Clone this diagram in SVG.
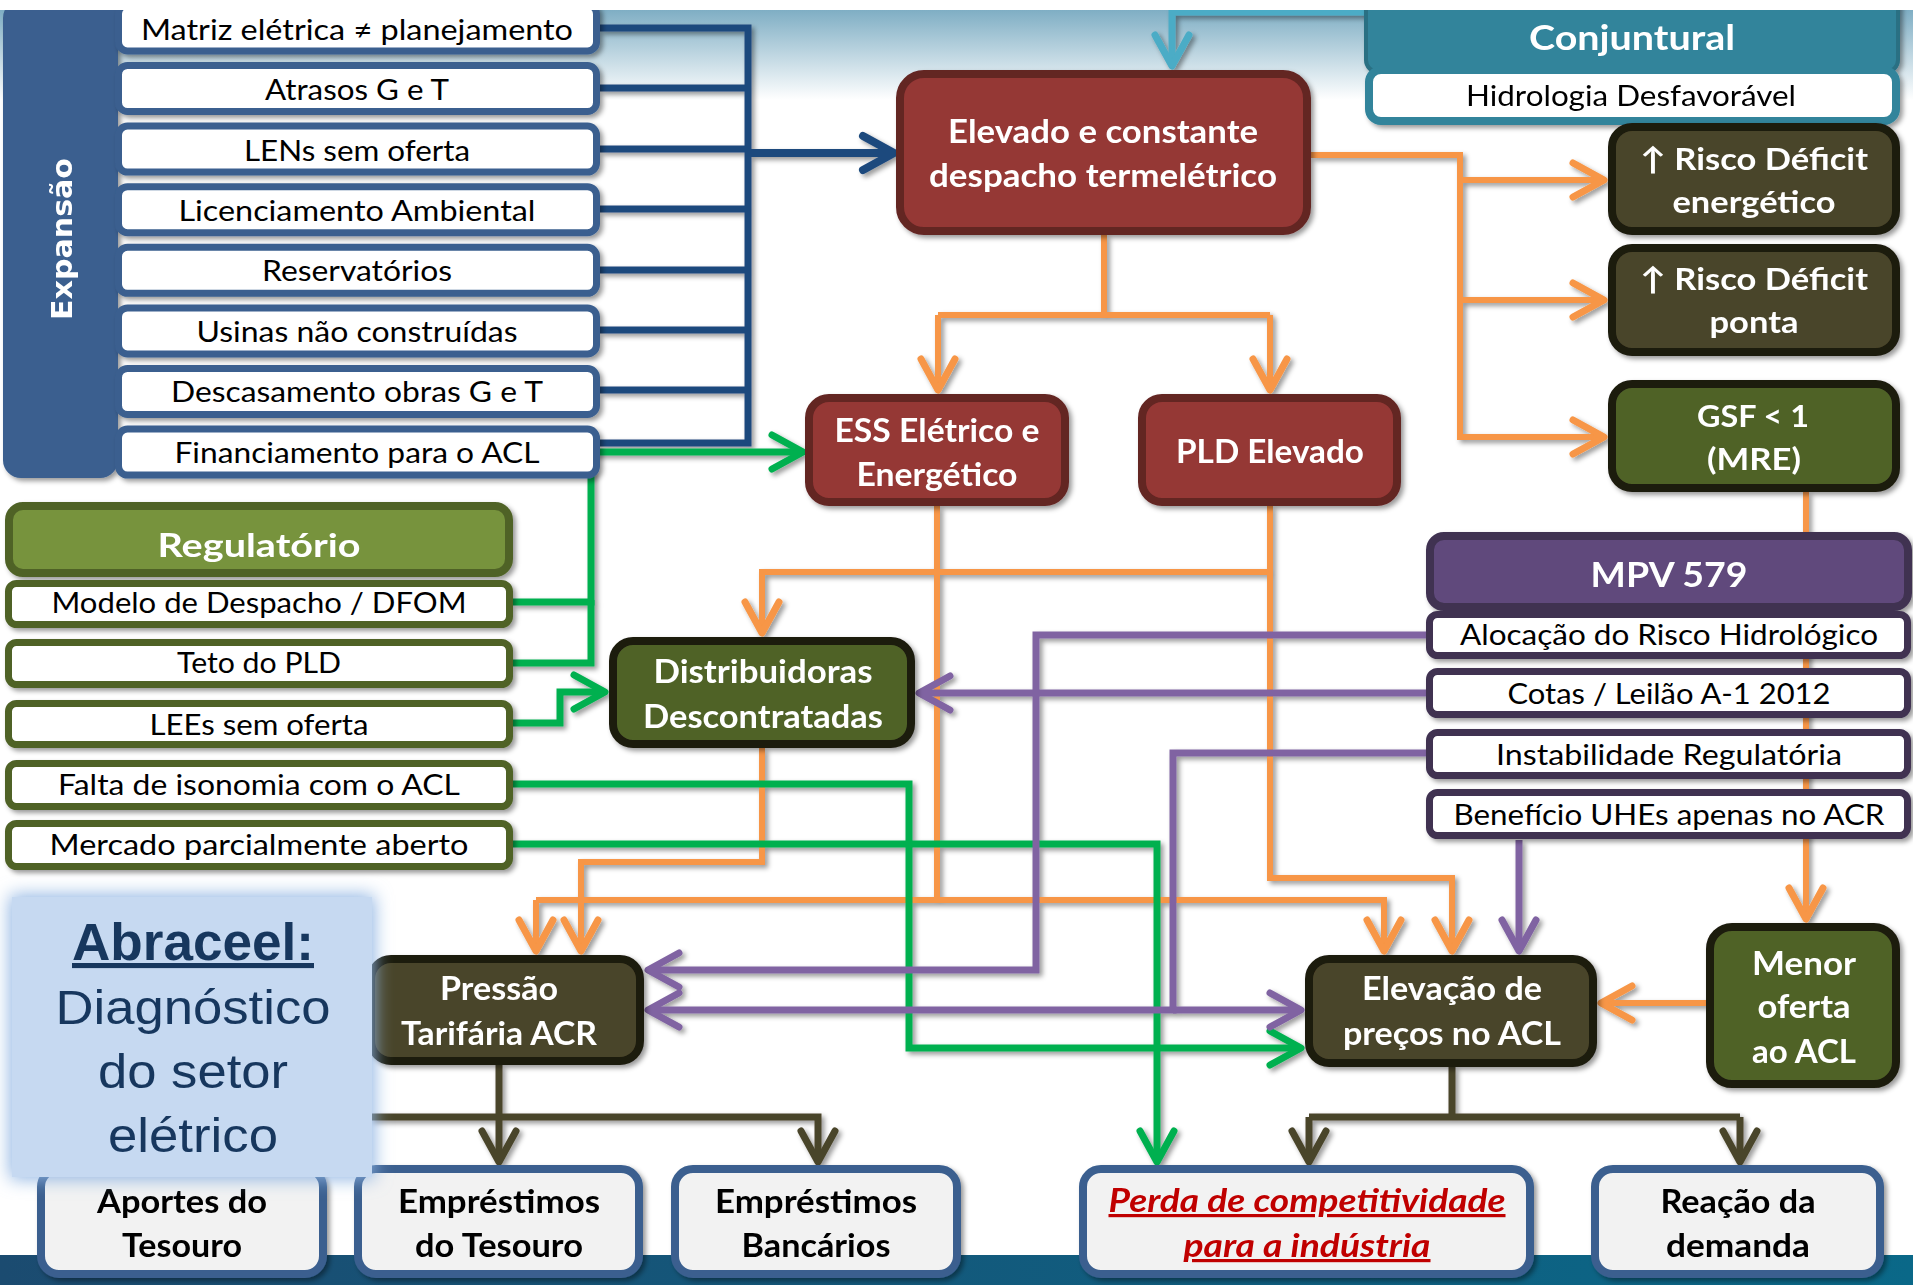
<svg xmlns="http://www.w3.org/2000/svg" width="1913" height="1285" viewBox="0 0 1913 1285">
<defs>
<style>
.t{font-family:Lato,'DejaVu Sans',sans-serif;text-anchor:middle}
.w{fill:#fff;font-weight:bold;font-size:32px}
.k{fill:#000;font-size:28px}
.kb{fill:#000;font-weight:bold;font-size:32px}
.c{fill:none;stroke-width:7;stroke-linejoin:miter}
.bl{stroke:#1f497d}.lb{stroke:#4bacc6}.or{stroke:#f79646;stroke-width:6}.gr{stroke:#00b050}.pu{stroke:#8064a2}.ol{stroke:#4a452a}
.red{fill:#953735;stroke:#632523;stroke-width:8}
.dol{fill:#4a452a;stroke:#1d1b10;stroke-width:8}
.grn{fill:#4f6228;stroke:#1d1b10;stroke-width:8}
.bot{fill:#f2f2f2;stroke:#3a5f8f;stroke-width:8}
.ei{fill:#fff;stroke:#3a5f8f;stroke-width:7}
.ri{fill:#fff;stroke:#4f6228;stroke-width:7}
.mi{fill:#fff;stroke:#3f3151;stroke-width:7}
</style>
<filter id="sh" filterUnits="userSpaceOnUse" x="0" y="0" width="1913" height="1285"><feDropShadow dx="3" dy="3" stdDeviation="2.5" flood-color="#000" flood-opacity="0.4"/></filter>
<filter id="glow" x="-20%" y="-20%" width="140%" height="140%"><feGaussianBlur stdDeviation="9"/></filter>
<linearGradient id="topg" x1="0" y1="0" x2="0" y2="1"><stop offset="0" stop-color="#7faec4"/><stop offset="1" stop-color="#ffffff"/></linearGradient>
<linearGradient id="botg" x1="0" y1="0" x2="1" y2="0"><stop offset="0" stop-color="#1b4b70"/><stop offset="1" stop-color="#0a6888"/></linearGradient>
<marker id="aBl" markerUnits="userSpaceOnUse" viewBox="0 0 40 40" markerWidth="40" markerHeight="40" refX="35" refY="20" orient="auto" overflow="visible"><path d="M4,3 L35,20 L4,37" fill="none" stroke="#1f497d" stroke-width="8" stroke-linecap="round" stroke-linejoin="round"/></marker>
<marker id="aLb" markerUnits="userSpaceOnUse" viewBox="0 0 40 40" markerWidth="40" markerHeight="40" refX="35" refY="20" orient="auto" overflow="visible"><path d="M4,3 L35,20 L4,37" fill="none" stroke="#4bacc6" stroke-width="7" stroke-linecap="round" stroke-linejoin="round"/></marker>
<marker id="aOr" markerUnits="userSpaceOnUse" viewBox="0 0 40 40" markerWidth="40" markerHeight="40" refX="35" refY="20" orient="auto" overflow="visible"><path d="M4,3 L35,20 L4,37" fill="none" stroke="#f79646" stroke-width="7" stroke-linecap="round" stroke-linejoin="round"/></marker>
<marker id="aGr" markerUnits="userSpaceOnUse" viewBox="0 0 40 40" markerWidth="40" markerHeight="40" refX="35" refY="20" orient="auto" overflow="visible"><path d="M4,3 L35,20 L4,37" fill="none" stroke="#00b050" stroke-width="7" stroke-linecap="round" stroke-linejoin="round"/></marker>
<marker id="aPu" markerUnits="userSpaceOnUse" viewBox="0 0 40 40" markerWidth="40" markerHeight="40" refX="35" refY="20" orient="auto" overflow="visible"><path d="M4,3 L35,20 L4,37" fill="none" stroke="#8064a2" stroke-width="7" stroke-linecap="round" stroke-linejoin="round"/></marker>
<marker id="aOl" markerUnits="userSpaceOnUse" viewBox="0 0 40 40" markerWidth="40" markerHeight="40" refX="35" refY="20" orient="auto" overflow="visible"><path d="M4,3 L35,20 L4,37" fill="none" stroke="#4a452a" stroke-width="7" stroke-linecap="round" stroke-linejoin="round"/></marker>
</defs>

<rect width="1913" height="1285" fill="#fff"/>
<rect x="0" y="10" width="1913" height="90" fill="url(#topg)"/>
<rect x="0" y="1255" width="1913" height="30" fill="url(#botg)"/>

<g id="connectors" filter="url(#sh)">
  <path class="c bl" d="M600,28 H748 V443 H600 M600,88 H748 M600,149 H748 M600,209 H748 M600,270 H748 M600,330 H748 M600,390 H748"/>
  <path class="c bl" style="stroke-width:8" d="M748,153 H894" marker-end="url(#aBl)"/>
  <path class="c lb" d="M1368,12 H1172 V66" marker-end="url(#aLb)"/>
  <path class="c or" d="M1311,155 H1460 V437 H1604" marker-end="url(#aOr)"/>
  <path class="c or" d="M1460,180 H1604" marker-end="url(#aOr)"/>
  <path class="c or" d="M1460,300 H1604" marker-end="url(#aOr)"/>
  <path class="c or" d="M1104,235 V315 M938,315 H1270"/>
  <path class="c or" d="M938,315 V390" marker-end="url(#aOr)"/>
  <path class="c or" d="M1270,315 V390" marker-end="url(#aOr)"/>
  <path class="c or" d="M1806,492 V919" marker-end="url(#aOr)"/>
  <path class="c or" d="M1270,506 V878 H1452 V951" marker-end="url(#aOr)"/>
  <path class="c or" d="M1270,572 H762 V633" marker-end="url(#aOr)"/>
  <path class="c or" d="M937,506 V900"/>
  <path class="c or" d="M536,900 H1384 V951" marker-end="url(#aOr)"/>
  <path class="c or" d="M536,900 V951" marker-end="url(#aOr)"/>
  <path class="c or" d="M762,748 V862 H581 V951" marker-end="url(#aOr)"/>
  <path class="c or" d="M1707,1003 H1601" marker-end="url(#aOr)"/>
  <path class="c gr" d="M513,602 H591 V452 H803" marker-end="url(#aGr)"/>
  <path class="c gr" d="M513,663 H591 V600"/>
  <path class="c gr" d="M513,723 H560 V692 H605" marker-end="url(#aGr)"/>
  <path class="c gr" d="M513,784 H909 V1048 H1301" marker-end="url(#aGr)"/>
  <path class="c gr" d="M513,844 H1157 V1162" marker-end="url(#aGr)"/>
  <path class="c pu" d="M1428,635 H1036 V970 H648" marker-end="url(#aPu)"/>
  <path class="c pu" d="M1428,693 H919" marker-end="url(#aPu)"/>
  <path class="c pu" d="M1428,753 H1173 V1010 H648" marker-end="url(#aPu)"/>
  <path class="c pu" d="M1173,1010 H1301" marker-end="url(#aPu)"/>
  <path class="c pu" d="M1519,840 V951" marker-end="url(#aPu)"/>
  <path class="c ol" d="M499,1065 V1162" marker-end="url(#aOl)"/>
  <path class="c ol" d="M370,1117 H818 V1162" marker-end="url(#aOl)"/>
  <path class="c ol" d="M1452,1067 V1117 M1309,1117 H1740"/>
  <path class="c ol" d="M1309,1117 V1162" marker-end="url(#aOl)"/>
  <path class="c ol" d="M1740,1117 V1162" marker-end="url(#aOl)"/>
</g>

<g id="expansao" filter="url(#sh)">
  <rect x="3" y="0" width="115" height="478" rx="18" fill="#3a5f8f"/>
  <text class="t" transform="translate(72,239) rotate(-90)" style="font-family:'DejaVu Sans',sans-serif;font-weight:bold;font-size:29px;fill:#fff" textLength="162" lengthAdjust="spacingAndGlyphs">Expansão</text>
</g>
<g id="exp-items" filter="url(#sh)">
  <rect class="ei" x="118.5" y="4.9" width="478" height="46" rx="9"/>
  <rect class="ei" x="118.5" y="65.5" width="478" height="46" rx="9"/>
  <rect class="ei" x="118.5" y="126.1" width="478" height="46" rx="9"/>
  <rect class="ei" x="118.5" y="186.7" width="478" height="46" rx="9"/>
  <rect class="ei" x="118.5" y="247.3" width="478" height="46" rx="9"/>
  <rect class="ei" x="118.5" y="307.9" width="478" height="46" rx="9"/>
  <rect class="ei" x="118.5" y="368.5" width="478" height="46" rx="9"/>
  <rect class="ei" x="118.5" y="429.1" width="478" height="46" rx="9"/>
</g>
<g id="exp-texts">
  <text class="t k" x="357" y="40" textLength="432" lengthAdjust="spacingAndGlyphs">Matriz elétrica ≠ planejamento</text>
  <text class="t k" x="357" y="100" textLength="184" lengthAdjust="spacingAndGlyphs">Atrasos G e T</text>
  <text class="t k" x="357" y="161" textLength="226" lengthAdjust="spacingAndGlyphs">LENs sem oferta</text>
  <text class="t k" x="357" y="221" textLength="357" lengthAdjust="spacingAndGlyphs">Licenciamento Ambiental</text>
  <text class="t k" x="357" y="281" textLength="190" lengthAdjust="spacingAndGlyphs">Reservatórios</text>
  <text class="t k" x="357" y="342" textLength="321" lengthAdjust="spacingAndGlyphs">Usinas não construídas</text>
  <text class="t k" x="357" y="402" textLength="372" lengthAdjust="spacingAndGlyphs">Descasamento obras G e T</text>
  <text class="t k" x="357" y="463" textLength="365" lengthAdjust="spacingAndGlyphs">Financiamento para o ACL</text>
</g>

<g id="conjuntural" filter="url(#sh)">
  <rect x="1366" y="-10" width="532" height="82" rx="12" fill="#31849b" stroke="#2a6f83" stroke-width="4"/>
  <text class="t w" x="1632" y="50" style="font-size:35px" textLength="206" lengthAdjust="spacingAndGlyphs">Conjuntural</text>
  <rect x="1369" y="70" width="527" height="51" rx="12" fill="#fff" stroke="#31849b" stroke-width="8"/>
  <text class="t k" x="1631" y="106" textLength="330" lengthAdjust="spacingAndGlyphs">Hidrologia Desfavorável</text>
</g>

<g id="elevado" filter="url(#sh)">
  <rect class="red" x="900" y="74" width="407" height="157" rx="24"/>
  <text class="t w" x="1103" y="143" textLength="310" lengthAdjust="spacingAndGlyphs">Elevado e constante</text>
  <text class="t w" x="1103" y="187" textLength="348" lengthAdjust="spacingAndGlyphs">despacho termelétrico</text>
</g>
<g id="risco-energetico" filter="url(#sh)">
  <rect class="dol" x="1612" y="127" width="284" height="104" rx="20"/>
  <text class="t w" x="1754" y="170" style="font-size:31px" textLength="228" lengthAdjust="spacingAndGlyphs">↑ Risco Déficit</text>
  <text class="t w" x="1754" y="213" style="font-size:31px" textLength="163" lengthAdjust="spacingAndGlyphs">energético</text>
</g>
<g id="risco-ponta" filter="url(#sh)">
  <rect class="dol" x="1612" y="248" width="284" height="104" rx="20"/>
  <text class="t w" x="1754" y="290" style="font-size:31px" textLength="228" lengthAdjust="spacingAndGlyphs">↑ Risco Déficit</text>
  <text class="t w" x="1754" y="333" style="font-size:31px" textLength="89" lengthAdjust="spacingAndGlyphs">ponta</text>
</g>
<g id="gsf" filter="url(#sh)">
  <rect class="grn" x="1612" y="384" width="284" height="104" rx="20"/>
  <text class="t w" x="1753" y="427" style="font-size:31px" textLength="112" lengthAdjust="spacingAndGlyphs">GSF &lt; 1</text>
  <text class="t w" x="1754" y="470" style="font-size:31px" textLength="94" lengthAdjust="spacingAndGlyphs">(MRE)</text>
</g>
<g id="ess" filter="url(#sh)">
  <rect class="red" x="809" y="398" width="256" height="104" rx="20"/>
  <text class="t w" x="937" y="442" textLength="205" lengthAdjust="spacingAndGlyphs">ESS Elétrico e</text>
  <text class="t w" x="937" y="486" textLength="161" lengthAdjust="spacingAndGlyphs">Energético</text>
</g>
<g id="pld" filter="url(#sh)">
  <rect class="red" x="1142" y="398" width="255" height="104" rx="20"/>
  <text class="t w" x="1270" y="463" textLength="188" lengthAdjust="spacingAndGlyphs">PLD Elevado</text>
</g>

<g id="regulatorio" filter="url(#sh)">
  <rect x="9" y="506" width="500" height="67" rx="14" fill="#77933c" stroke="#4f6228" stroke-width="8"/>
  <text class="t w" x="259" y="557" style="font-size:33px" textLength="203" lengthAdjust="spacingAndGlyphs">Regulatório</text>
  <rect class="ri" x="8.5" y="583.5" width="501" height="41" rx="8"/>
  <rect class="ri" x="8.5" y="642.5" width="501" height="42" rx="8"/>
  <rect class="ri" x="8.5" y="703.5" width="501" height="41" rx="8"/>
  <rect class="ri" x="8.5" y="763.5" width="501" height="43" rx="8"/>
  <rect class="ri" x="8.5" y="823.5" width="501" height="43" rx="8"/>
</g>
<g id="reg-texts">
  <text class="t k" x="259" y="613" textLength="415" lengthAdjust="spacingAndGlyphs">Modelo de Despacho / DFOM</text>
  <text class="t k" x="259" y="673" textLength="164" lengthAdjust="spacingAndGlyphs">Teto do PLD</text>
  <text class="t k" x="259" y="735" textLength="219" lengthAdjust="spacingAndGlyphs">LEEs sem oferta</text>
  <text class="t k" x="259" y="795" textLength="402" lengthAdjust="spacingAndGlyphs">Falta de isonomia com o ACL</text>
  <text class="t k" x="259" y="855" textLength="419" lengthAdjust="spacingAndGlyphs">Mercado parcialmente aberto</text>
</g>

<g id="distribuidoras" filter="url(#sh)">
  <rect class="grn" x="613" y="641" width="298" height="103" rx="20"/>
  <text class="t w" x="763" y="683" textLength="219" lengthAdjust="spacingAndGlyphs">Distribuidoras</text>
  <text class="t w" x="763" y="728" textLength="240" lengthAdjust="spacingAndGlyphs">Descontratadas</text>
</g>

<g id="mpv" filter="url(#sh)">
  <rect x="1430" y="536" width="478" height="71" rx="14" fill="#604a7b" stroke="#3f3151" stroke-width="8"/>
  <text class="t w" x="1669" y="587" style="font-size:35px" textLength="157" lengthAdjust="spacingAndGlyphs">MPV 579</text>
  <rect class="mi" x="1429.5" y="614.5" width="478" height="41" rx="8"/>
  <rect class="mi" x="1429.5" y="671.5" width="478" height="43" rx="8"/>
  <rect class="mi" x="1429.5" y="732.5" width="478" height="43" rx="8"/>
  <rect class="mi" x="1429.5" y="792.5" width="478" height="43" rx="8"/>
</g>
<g id="mpv-texts">
  <text class="t k" x="1669" y="645" textLength="418" lengthAdjust="spacingAndGlyphs">Alocação do Risco Hidrológico</text>
  <text class="t k" x="1669" y="704" textLength="323" lengthAdjust="spacingAndGlyphs">Cotas / Leilão A-1 2012</text>
  <text class="t k" x="1669" y="765" textLength="346" lengthAdjust="spacingAndGlyphs">Instabilidade Regulatória</text>
  <text class="t k" x="1669" y="825" textLength="431" lengthAdjust="spacingAndGlyphs">Benefício UHEs apenas no ACR</text>
</g>

<g id="pressao" filter="url(#sh)">
  <rect class="dol" x="371" y="959" width="269" height="102" rx="20"/>
  <text class="t w" x="499" y="1000" textLength="118" lengthAdjust="spacingAndGlyphs">Pressão</text>
  <text class="t w" x="499" y="1045" textLength="196" lengthAdjust="spacingAndGlyphs">Tarifária ACR</text>
</g>
<g id="elevacao" filter="url(#sh)">
  <rect class="dol" x="1309" y="959" width="284" height="104" rx="20"/>
  <text class="t w" x="1452" y="1000" textLength="180" lengthAdjust="spacingAndGlyphs">Elevação de</text>
  <text class="t w" x="1452" y="1045" textLength="218" lengthAdjust="spacingAndGlyphs">preços no ACL</text>
</g>
<g id="menor-oferta" filter="url(#sh)">
  <rect class="grn" x="1710" y="927" width="186" height="157" rx="22"/>
  <text class="t w" x="1804" y="975" textLength="104" lengthAdjust="spacingAndGlyphs">Menor</text>
  <text class="t w" x="1804" y="1018" textLength="93" lengthAdjust="spacingAndGlyphs">oferta</text>
  <text class="t w" x="1804" y="1063" textLength="104" lengthAdjust="spacingAndGlyphs">ao ACL</text>
</g>

<g id="aportes" filter="url(#sh)">
  <rect class="bot" x="41" y="1169" width="282" height="105" rx="18"/>
  <text class="t kb" x="182" y="1213" textLength="170" lengthAdjust="spacingAndGlyphs">Aportes do</text>
  <text class="t kb" x="182" y="1257" textLength="120" lengthAdjust="spacingAndGlyphs">Tesouro</text>
</g>
<g id="emprestimos-tesouro" filter="url(#sh)">
  <rect class="bot" x="358" y="1169" width="281" height="105" rx="18"/>
  <text class="t kb" x="499" y="1213" textLength="202" lengthAdjust="spacingAndGlyphs">Empréstimos</text>
  <text class="t kb" x="499" y="1257" textLength="168" lengthAdjust="spacingAndGlyphs">do Tesouro</text>
</g>
<g id="emprestimos-bancarios" filter="url(#sh)">
  <rect class="bot" x="675" y="1169" width="282" height="105" rx="18"/>
  <text class="t kb" x="816" y="1213" textLength="202" lengthAdjust="spacingAndGlyphs">Empréstimos</text>
  <text class="t kb" x="816" y="1257" textLength="149" lengthAdjust="spacingAndGlyphs">Bancários</text>
</g>
<g id="perda" filter="url(#sh)">
  <rect class="bot" x="1083" y="1169" width="447" height="105" rx="18"/>
  <text class="t kb" x="1307" y="1212" style="fill:#c00000;font-style:italic;text-decoration:underline" textLength="397" lengthAdjust="spacingAndGlyphs">Perda de competitividade</text>
  <text class="t kb" x="1307" y="1257" style="fill:#c00000;font-style:italic;text-decoration:underline" textLength="247" lengthAdjust="spacingAndGlyphs">para a indústria</text>
</g>
<g id="reacao" filter="url(#sh)">
  <rect class="bot" x="1595" y="1169" width="285" height="105" rx="18"/>
  <text class="t kb" x="1738" y="1213" textLength="155" lengthAdjust="spacingAndGlyphs">Reação da</text>
  <text class="t kb" x="1738" y="1257" textLength="144" lengthAdjust="spacingAndGlyphs">demanda</text>
</g>

<g id="abraceel">
  <rect x="10" y="895" width="364" height="284" fill="#8db3e2" filter="url(#glow)"/>
  <rect x="12" y="897" width="360" height="280" fill="#c6d9f1"/>
  <text x="193" y="960" style="font-family:'Liberation Sans',Arial,sans-serif;text-anchor:middle;font-weight:bold;font-size:51px;fill:#17375e;text-decoration:underline" textLength="242" lengthAdjust="spacingAndGlyphs">Abraceel:</text>
  <text x="193" y="1024" style="font-family:'Liberation Sans',Arial,sans-serif;text-anchor:middle;font-size:49px;fill:#17375e" textLength="275" lengthAdjust="spacingAndGlyphs">Diagnóstico</text>
  <text x="193" y="1088" style="font-family:'Liberation Sans',Arial,sans-serif;text-anchor:middle;font-size:49px;fill:#17375e" textLength="190" lengthAdjust="spacingAndGlyphs">do setor</text>
  <text x="193" y="1152" style="font-family:'Liberation Sans',Arial,sans-serif;text-anchor:middle;font-size:49px;fill:#17375e" textLength="170" lengthAdjust="spacingAndGlyphs">elétrico</text>
</g>

<rect x="0" y="0" width="1913" height="10" fill="#fff"/>
</svg>
